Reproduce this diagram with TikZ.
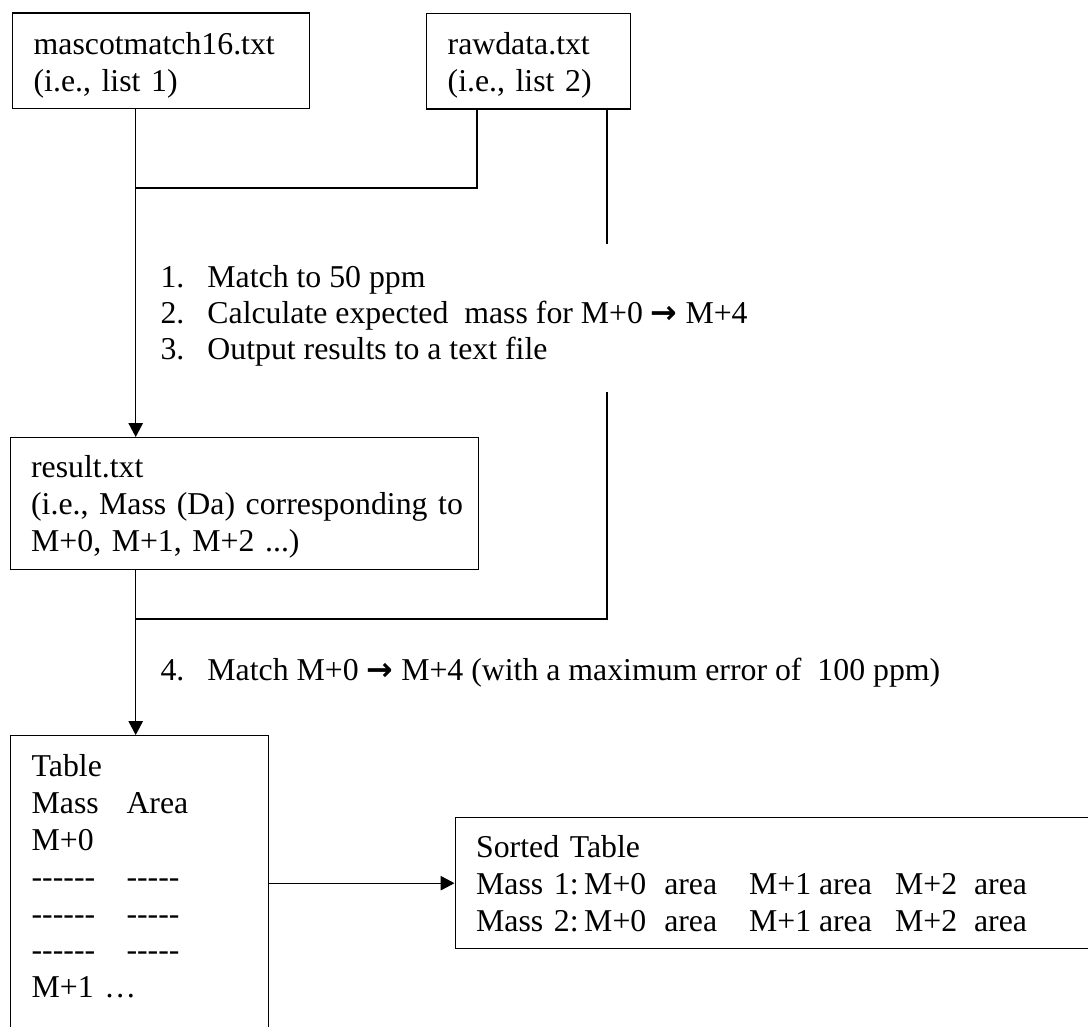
\documentclass[tikz,border=0pt]{standalone}
\usepackage{fontspec}
\setmainfont{Liberation Serif}
\newfontfamily\arrowfont{DejaVu Sans}
\usetikzlibrary{arrows.meta}
\frenchspacing

% one row of the sorted table
\newcommand{\sortedrow}[1]{\makebox[40.8pt][l]{Mass #1:}\makebox[30.2pt][l]{M+0}\makebox[32pt][l]{area}\makebox[26.4pt][l]{M+1}\makebox[28.7pt][l]{area}\makebox[29.8pt][l]{M+2}area}
\newcommand{\dashrow}{\makebox[35.8pt][l]{{-}{-}{-}{-}{-}{-}}{-}{-}{-}{-}{-}}
\newcommand{\steparrow}{{\arrowfont\bfseries →}}

\begin{document}
\begin{tikzpicture}[x=0.3774pt, y=-0.3774pt,
    every node/.style={font=\fontsize{12}{13.9}\selectfont},
    filebox/.style={draw, line width=0.55pt, anchor=north west, inner xsep=7.9pt, inner ysep=0pt},
    steptext/.style={anchor=base west, inner sep=0pt},
    link/.style={line width=0.45pt},
    flow/.style={link, -{Triangle[length=5.2pt,width=5.4pt]}}]
    \useasboundingbox (0,0) rectangle (1088,1026);
    \clip (0,0) rectangle (1088,1026);

    % Input files
    \node[filebox, text width=96.2pt, text height=15.5pt, text depth=20.4pt] (list1) at (12,12.5) {mascotmatch16.txt\\(i.e., list 1)};
    \node[filebox, text width=61.1pt, text height=15.4pt, text depth=20.5pt] (list2) at (426,13) {rawdata.txt\\(i.e., list 2)};

    % Result file
    \node[filebox, text width=161pt, text height=15.1pt, text depth=34.7pt] (result) at (9.5,437) {result.txt\\\mbox{(i.e., Mass (Da) corresponding to}\\M+0, M+1, M+2 ...)};

    % Tables
    \node[filebox, text width=81.5pt, text height=15.5pt, text depth=107.2pt] (table) at (10,735) {Table\\\makebox[35.8pt][l]{Mass}Area\\M+0\\\dashrow\\\dashrow\\\dashrow\\M+1 …};
    \node[filebox, text width=227.8pt, text height=15.1pt, text depth=34.3pt] (sorted) at (454.5,817) {Sorted Table\\\sortedrow{1}\\\sortedrow{2}};

    % Processing steps
    \node[steptext] (step1) at (160,287) {\makebox[17.7pt][l]{1.}Match to 50 ppm};
    \node[steptext] (step2) at (160,323) {\makebox[17.7pt][l]{2.}Calculate expected \ mass for M+0 \steparrow\ M+4};
    \node[steptext] (step3) at (160,359) {\makebox[17.7pt][l]{3.}Output results to a text file};
    \node[steptext] (step4) at (160,680) {\makebox[17.7pt][l]{4.}Match M+0 \steparrow\ M+4 (with a maximum error of \ 100 ppm)};

    % Junction points
    \coordinate (j1) at (135.7,188);
    \coordinate (j2) at (477,188);
    \coordinate (r1) at (607,244);
    \coordinate (r2) at (607,392);
    \coordinate (r3) at (607,619);
    \coordinate (j3) at (135.7,619);

    % Connectors
    \draw[link] (list2.south -| j2) -- (j2) -- (j1);
    \draw[link] (list2.south -| r1) -- (r1);
    \draw[link] (r2) -- (r3) -- (j3);
    \draw[flow] (list1.south -| j1) -- (result.north -| j1);
    \draw[flow] (result.south -| j3) -- (table.north -| j3);
    \draw[flow] (sorted.west -| table.east) -- (sorted.west);
\end{tikzpicture}
\end{document}
